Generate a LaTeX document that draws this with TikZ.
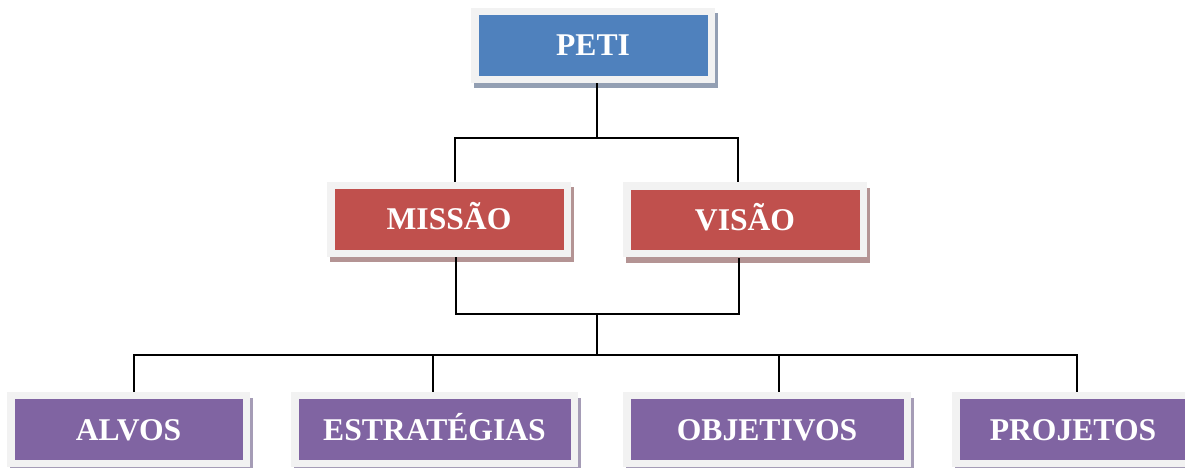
\documentclass[tikz,border=0pt]{standalone}
\usepackage{fontspec}
\setmainfont{Liberation Serif}
\usepackage{xcolor}
\usepackage{tikz}
\usetikzlibrary{shadows,calc}

\definecolor{framegray}{HTML}{F2F2F2}
\definecolor{petiblue}{HTML}{4F81BD}
\definecolor{petishade}{HTML}{939FB3}
\definecolor{misred}{HTML}{C0504D}
\definecolor{misshade}{HTML}{B49494}
\definecolor{alvpurple}{HTML}{8064A2}
\definecolor{alvshade}{HTML}{A59CB6}

\begin{document}
\begin{tikzpicture}[
  box/.style={fill=framegray, minimum height=1.5cm, inner sep=0pt,
              text height=0.42cm, text depth=0pt, text=white,
              font=\fontsize{18}{20}\selectfont\bfseries,
              path picture={\fill[#1]
                ([shift={(.15cm,.14cm)}]path picture bounding box.south west) rectangle
                ([shift={(-.15cm,-.15cm)}]path picture bounding box.north east);}},
  topbox/.style={box=petiblue, minimum width=4.88cm,
                 drop shadow={shadow xshift=.06cm, shadow yshift=-.11cm, fill=petishade, opacity=1}},
  midbox/.style={box=misred, minimum width=4.88cm,
                 drop shadow={shadow xshift=.06cm, shadow yshift=-.11cm, fill=misshade, opacity=1}},
  lowbox/.style={box=alvpurple,
                 drop shadow={shadow xshift=.06cm, shadow yshift=-.11cm, fill=alvshade, opacity=1}},
  conn/.style={line width=1.1pt, black},
]
\clip (0,0) rectangle (23.7,-9.36);
\fill[white] (0,0) rectangle (23.7,-9.36);

% boxes
\node[topbox] (peti) at (11.86,-0.91) {PETI};
\node[midbox] (missao) at (8.98,-4.39) {MISSÃO};
\node[midbox] (visao) at (14.90,-4.40) {VISÃO};
\node[lowbox, minimum width=4.86cm] (alvos) at (2.57,-8.59) {ALVOS};
\node[lowbox, minimum width=5.74cm] (estrategias) at (8.69,-8.59) {ESTRATÉGIAS};
\node[lowbox, minimum width=5.76cm] (objetivos) at (15.34,-8.59) {OBJETIVOS};
\node[lowbox, minimum width=4.84cm] (projetos) at (21.46,-8.59) {PROJETOS};

% junctions
\coordinate (top) at (11.94,-2.76);
\coordinate (mid) at (11.94,-6.28);
\coordinate (bus) at (11.94,-7.10);

% connectors
\draw[conn] (peti.south -| top) -- (top);
\draw[conn] ([xshift=.12cm]missao.north) |- (top) -| ([xshift=-.14cm]visao.north);
\draw[conn] ([xshift=.14cm]missao.south) |- (mid) -| ([xshift=-.12cm]visao.south);
\draw[conn] (mid) -- (bus);
\foreach \n/\dx in {alvos/.11, estrategias/-.03, objetivos/.24, projetos/.08}
  \draw[conn] ([xshift=\dx cm]\n.north) |- (bus);
\end{tikzpicture}
\end{document}
